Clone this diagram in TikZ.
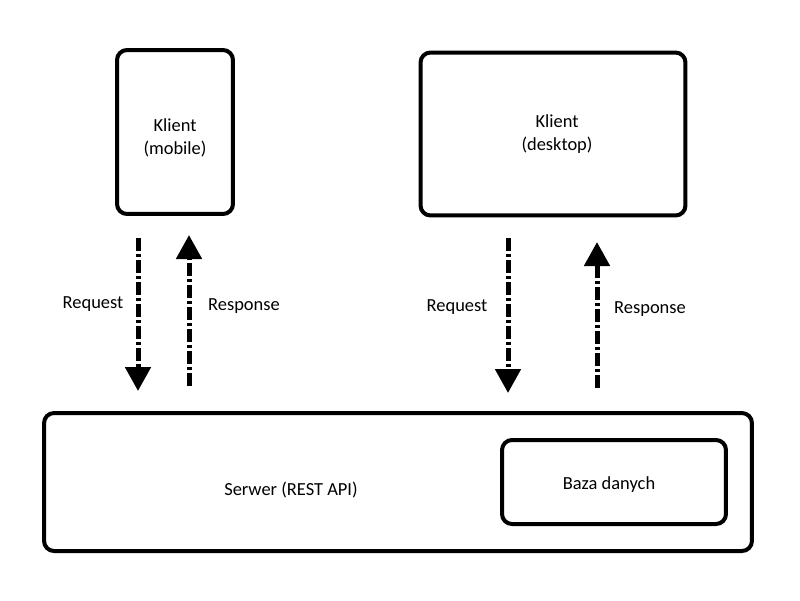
\documentclass[tikz,border=0pt]{standalone}
\usepackage{fontspec}
\setmainfont{Carlito}
\usepackage{tikz}
\usetikzlibrary{arrows.meta, positioning}

\tikzstyle{box}     = [rectangle, rounded corners=0.2cm, line width=0.08cm, draw=black, align=center, font=\fontsize{10.5}{14.7}\selectfont]
\tikzstyle{msgtext} = [font=\fontsize{10.5}{13}\selectfont]
\tikzstyle{arrow}   = [line width=0.1cm, dash pattern=on 0.26cm off 0.06cm on 0.06cm off 0.06cm, -{Triangle[length=0.48cm, width=0.5cm]}]

\begin{document}
\begin{tikzpicture}[x=0.02cm, y=-0.02cm]
    \useasboundingbox (0,0) rectangle (800,600);

    \node (mobile)  [box, minimum width=2.32cm, minimum height=3.28cm] at (175,132) {};
    \node (desktop) [box, minimum width=5.3cm,  minimum height=3.26cm] at (553,134) {};
    \node (server)  [box, minimum width=14.16cm, minimum height=2.76cm] at (398,482) {};
    \node (db)      [box, minimum width=4.48cm, minimum height=1.68cm] at (614,482) {};

    % box captions
    \node (mobname) [msgtext, align=center] at (175,138) {Klient\\(mobile)};
    \node (desname) [msgtext, align=center] at (557,134) {Klient\\(desktop)};
    \node (srvname) [msgtext] at (291,490) {Serwer (REST API)};
    \node (dbname)  [msgtext] at (609,485) {Baza danych};

    % free ends of the dash-dot arrows
    \coordinate (mreqA) at (138,238);
    \coordinate (mreqB) at (138,391);
    \coordinate (mresA) at (189,386);
    \coordinate (mresB) at (189,235);
    \coordinate (dreqA) at (508,238);
    \coordinate (dreqB) at (508,393);
    \coordinate (dresA) at (597,388);
    \coordinate (dresB) at (597,242);

    \draw [arrow] (mreqA) -- (mreqB);
    \draw [arrow] (mresA) -- (mresB);
    \draw [arrow] (dreqA) -- (dreqB);
    \draw [arrow] (dresA) -- (dresB);

    \node (mreq) [msgtext] at (93,304)  {Request};
    \node (mres) [msgtext] at (244,306) {Response};
    \node (dreq) [msgtext] at (457,307) {Request};
    \node (dres) [msgtext] at (650,309) {Response};

  \end{tikzpicture}
\end{document}
